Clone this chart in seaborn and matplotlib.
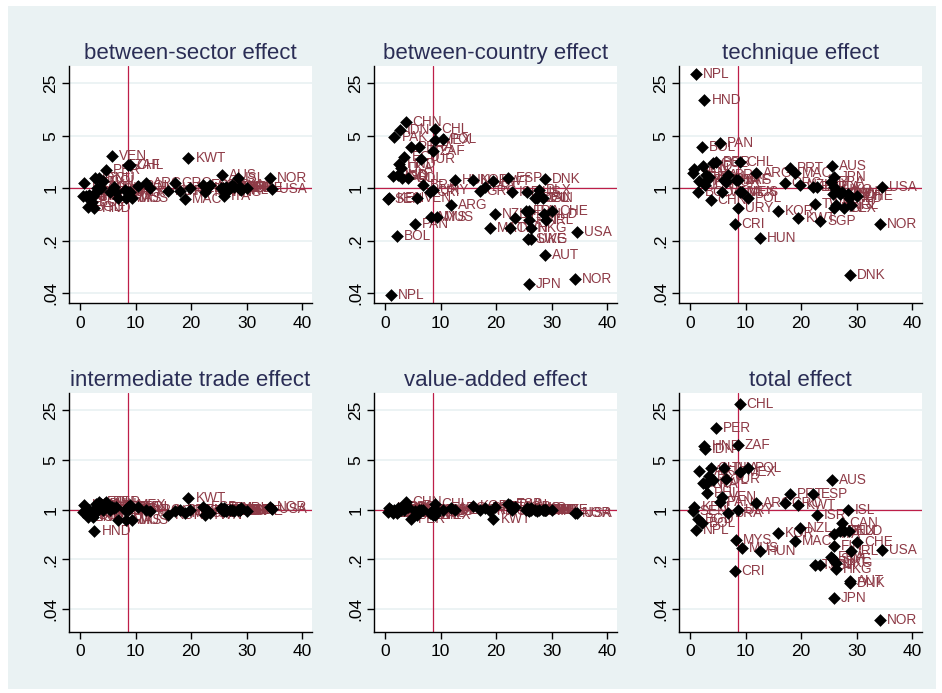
import pandas as pd
import matplotlib
matplotlib.use("Agg")
import matplotlib.pyplot as plt
import seaborn as sns
from matplotlib.patches import Rectangle
from matplotlib.ticker import FixedLocator, NullLocator

# country codes and the common x value
countries = ["NPL", "KEN", "SEN", "BGD", "PAK", "IND", "BOL", "HND", "IDN", "LKA",
             "PHL", "ECU", "CHN", "COL", "PER", "PAN", "VEN", "THA", "TUR", "BRA",
             "CRI", "MYS", "ZAF", "URY", "MEX", "CHL", "MUS", "POL", "ARG", "HUN",
             "KOR", "GRC", "PRT", "MAC", "KWT", "NZL", "ESP", "TWN", "ISR", "SGP",
             "FRA", "AUS", "ITA", "FIN", "JPN", "SWE", "UKG", "HKG", "DEU", "CAN",
             "BLX", "AUT", "DNK", "ISL", "NLD", "IRL", "CHE", "NOR", "USA"]
x_val = [1.1, 0.8, 0.5, 1.5, 1.7, 2.3, 2.1, 2.6, 2.7, 2.9,
         3.1, 3.5, 3.7, 4.2, 4.6, 5.4, 5.7, 6.2, 6.4, 6.9,
         8.0, 8.2, 8.6, 8.6, 8.9, 8.9, 9.4, 10.4, 11.9, 12.5,
         15.9, 17.0, 17.9, 18.9, 19.5, 19.7, 22.2, 22.5, 22.8, 23.4,
         25.3, 25.5, 25.9, 25.9, 25.9, 25.8, 26.3, 26.2, 27.0, 27.4,
         27.7, 28.7, 28.7, 28.4, 28.6, 28.9, 30.0, 34.2, 34.5]

between_sector = [0.78, 1.19, 0.78, 0.56, 0.82, 0.80, 0.65, 0.54, 1.38, 0.90,
                  1.00, 1.38, 1.00, 1.25, 1.73, 0.90, 2.73, 1.05, 0.885, 0.75,
                  0.95, 0.75, 2.03, 0.885, 0.885, 2.03, 0.75, 1.06, 1.19, 1.00,
                  0.92, 1.17, 0.93, 0.73, 2.55, 1.00, 1.09, 0.88, 1.00, 1.09,
                  1.00, 1.52, 0.78, 0.90, 0.95, 1.00, 1.05, 0.90, 1.00, 1.10,
                  1.05, 1.00, 1.05, 1.36, 1.00, 0.95, 1.00, 1.35, 0.99]
between_country = [0.038, 0.74, 0.72, 1.45, 4.76, 1.50, 0.23, 2.10, 6.00, 1.85,
                   1.35, 2.60, 7.55, 1.35, 3.60, 0.33, 0.75, 3.60, 2.45, 1.10,
                   0.90, 0.42, 3.10, 0.95, 4.40, 6.15, 0.42, 4.57, 0.60, 1.27,
                   1.27, 0.92, 1.05, 0.30, 1.24, 0.455, 1.36, 0.30, 0.90, 0.40,
                   0.50, 0.90, 0.50, 0.38, 0.053, 0.21, 0.21, 0.30, 0.74, 0.74,
                   0.94, 0.13, 1.33, 0.74, 0.46, 0.38, 0.50, 0.062, 0.26]
technique = [33.0, 1.80, 1.60, 0.88, 1.25, 2.00, 3.60, 14.9, 1.10, 1.50,
             1.30, 1.40, 0.70, 2.20, 2.27, 4.00, 0.90, 1.30, 1.20, 1.50,
             0.33, 1.30, 1.30, 0.54, 0.90, 2.27, 0.90, 0.75, 1.59, 0.215,
             0.50, 1.17, 1.85, 1.60, 0.40, 1.09, 1.04, 0.62, 1.04, 0.365,
             1.20, 2.00, 1.04, 0.55, 1.40, 0.85, 0.95, 0.60, 0.85, 0.90,
             0.55, 0.80, 0.069, 0.85, 0.75, 0.60, 0.80, 0.33, 1.05]
intermediate_trade = [0.95, 1.17, 0.93, 0.80, 1.00, 0.80, 0.85, 0.50, 0.90, 1.20,
                      1.10, 1.26, 1.20, 1.00, 1.26, 1.00, 1.10, 1.05, 1.10, 0.71,
                      1.00, 0.71, 1.10, 1.00, 1.17, 1.05, 0.71, 1.10, 1.00, 0.95,
                      0.83, 0.95, 1.00, 0.90, 1.45, 1.00, 1.08, 0.85, 1.00, 0.90,
                      1.05, 1.00, 0.95, 1.05, 1.00, 1.00, 1.00, 0.95, 1.00, 1.00,
                      0.95, 1.00, 1.00, 1.00, 1.00, 1.05, 0.95, 1.08, 1.03]
value_added = [1.00, 1.05, 0.92, 0.90, 1.00, 1.05, 0.90, 0.95, 1.05, 1.00,
               1.10, 1.00, 1.30, 1.10, 0.74, 0.95, 0.85, 1.00, 1.00, 1.00,
               0.90, 0.90, 0.84, 1.00, 0.84, 1.20, 0.95, 1.00, 1.05, 1.00,
               1.14, 1.00, 1.05, 0.95, 0.74, 1.10, 1.20, 1.15, 1.00, 1.10,
               1.00, 1.05, 1.00, 1.00, 0.95, 1.00, 1.00, 1.05, 1.00, 0.95,
               1.00, 1.00, 1.00, 1.00, 1.00, 1.00, 1.00, 0.90, 0.90]
total = [0.51, 1.10, 0.95, 0.75, 3.50, 2.40, 0.65, 7.70, 7.20, 2.30,
         1.70, 3.00, 3.90, 2.60, 13.8, 1.30, 1.50, 3.80, 2.70, 0.90,
         0.14, 0.38, 8.10, 1.00, 3.40, 30.0, 0.29, 3.80, 1.24, 0.26,
         0.47, 1.25, 1.65, 0.36, 1.17, 0.55, 1.65, 0.17, 0.84, 0.17,
         0.22, 2.60, 0.46, 0.31, 0.058, 0.20, 0.18, 0.145, 0.50, 0.65,
         0.50, 0.10, 0.093, 0.98, 0.50, 0.26, 0.35, 0.028, 0.27]

titles = ["between-sector effect", "between-country effect", "technique effect",
          "intermediate trade effect", "value-added effect", "total effect"]
series = [between_sector, between_country, technique,
          intermediate_trade, value_added, total]

y_ticks = [0.04, 0.2, 1, 5, 25]
y_tick_labels = [".04", ".2", "1", "5", "25"]
x_ticks = [0, 10, 20, 30, 40]
x_ref = 8.65

bg = "#EAF2F3"
title_col = "#2A2D55"
label_col = "#8E3B47"
ref_col = "#BE1E48"

sns.set_theme(style="white")
plt.rcParams["font.family"] = ["Liberation Sans", "DejaVu Sans"]

W, H = 942, 693
fig = plt.figure(figsize=(W / 100, H / 100), dpi=100)
fig.patch.set_facecolor("white")
fig.patches.append(Rectangle((8 / W, 1 - 689 / H), 928 / W, 683 / H,
                             transform=fig.transFigure, facecolor=bg,
                             edgecolor="none", zorder=-10))

lefts = [69.3, 374.3, 679.3]
rows = [(65.7, 303.3, (0.0294, 42.9)), (393.0, 631.7, (0.0194, 43.3))]

for i, (title, vals) in enumerate(zip(titles, series)):
    top, bottom, ylim = rows[i // 3]
    left = lefts[i % 3]
    ax = fig.add_axes([left / W, 1 - bottom / H, 242.4 / W, (bottom - top) / H])
    df = pd.DataFrame({"x": x_val, "y": vals, "country": countries})

    ax.set_yscale("log")
    ax.set_xlim(-1.93, 41.67)
    ax.set_ylim(*ylim)
    ax.grid(False)
    for t in y_ticks:
        ax.axhline(t, color=bg, lw=1.3, zorder=0)
    ax.axhline(1, color=ref_col, lw=0.9, zorder=1)
    ax.axvline(x_ref, color=ref_col, lw=0.9, zorder=1)

    sns.scatterplot(data=df, x="x", y="y", marker="D", color="black", s=42,
                    linewidth=0, ax=ax, zorder=3, legend=False)
    for cx, cy, name in zip(df["x"], df["y"], df["country"]):
        ax.annotate(name, (cx, cy), xytext=(5, 0), textcoords="offset points",
                    va="center", ha="left", fontsize=9.8, color=label_col,
                    annotation_clip=False, zorder=2)

    ax.yaxis.set_major_locator(FixedLocator(y_ticks))
    ax.yaxis.set_minor_locator(NullLocator())
    ax.set_yticklabels(y_tick_labels, rotation=90, va="center")
    ax.set_xticks(x_ticks)
    ax.set_xticklabels([str(t) for t in x_ticks])
    ax.tick_params(axis="both", direction="out", length=5, width=1,
                   colors="black", labelsize=12.5, left=True, bottom=True)
    ax.tick_params(axis="y", pad=3)
    ax.tick_params(axis="x", pad=4)
    ax.set_xlabel("")
    ax.set_ylabel("")
    ax.set_facecolor("white")
    for side in ["top", "right"]:
        ax.spines[side].set_visible(False)
    for side in ["left", "bottom"]:
        ax.spines[side].set_color("black")
        ax.spines[side].set_linewidth(1)
    ax.set_title(title, fontsize=16, color=title_col, pad=5)

fig.savefig("out.png", dpi=100, facecolor=fig.get_facecolor())
